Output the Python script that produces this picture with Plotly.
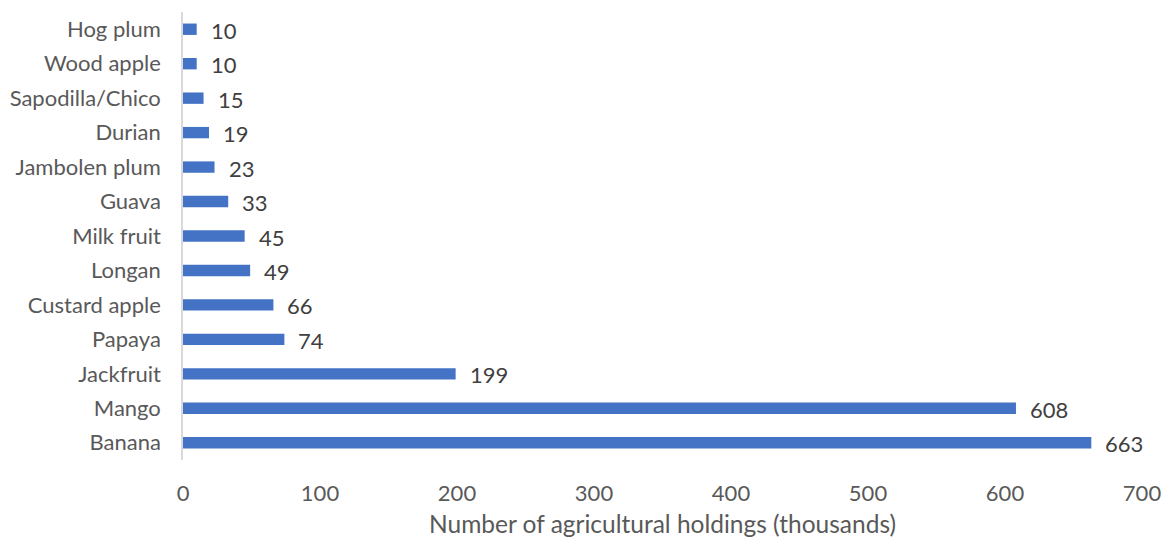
import plotly.graph_objects as go

categories = ["Banana", "Mango", "Jackfruit", "Papaya", "Custard apple", "Longan",
              "Milk fruit", "Guava", "Jambolen plum", "Durian", "Sapodilla/Chico",
              "Wood apple", "Hog plum"]
values = [663, 608, 199, 74, 66, 49, 45, 33, 23, 19, 15, 10, 10]
x_ticks = [0, 100, 200, 300, 400, 500, 600, 700]
x_title = "Number of agricultural holdings (thousands)"

FONT = "Lato, Carlito, Calibri, sans-serif"
FS = 22

fig = go.Figure()
fig.add_trace(go.Bar(
    y=categories, x=values, orientation="h",
    marker=dict(color="#4472C4", line=dict(width=0)),
    hoverinfo="x+y",
))

for c, v in zip(categories, values):
    fig.add_annotation(x=v, y=c, xref="x", yref="y", text=str(v),
                       showarrow=False, xanchor="left", yanchor="middle",
                       xshift=12, yshift=-1,
                       font=dict(family=FONT, size=FS, color="#404040"))

fig.update_layout(
    width=1164, height=543,
    margin=dict(l=183, r=22, t=12, b=83, autoexpand=False),
    paper_bgcolor="white", plot_bgcolor="white",
    bargap=0.67,
    showlegend=False,
    font=dict(family=FONT, size=FS, color="#595959"),
)
fig.update_xaxes(
    range=[0, 700], tickvals=x_ticks, ticktext=[str(t) for t in x_ticks],
    showgrid=False, zeroline=False, showline=False,
    ticks="outside", ticklen=14, tickcolor="rgba(0,0,0,0)",
    automargin=False,
    tickfont=dict(family=FONT, size=FS, color="#595959"),
    title=dict(text=x_title, font=dict(family=FONT, size=24.5, color="#595959"), standoff=10),
)
fig.update_yaxes(
    categoryorder="array", categoryarray=categories,
    showgrid=False, zeroline=False, showline=True, linecolor="#D9D9D9", linewidth=1.5,
    ticks="outside", ticklen=16, tickcolor="rgba(0,0,0,0)",
    automargin=False,
    tickfont=dict(family=FONT, size=FS, color="#595959"),
)

fig.write_html("out.html", config={"displayModeBar": False},
               post_script="document.body.style.margin='0';")
